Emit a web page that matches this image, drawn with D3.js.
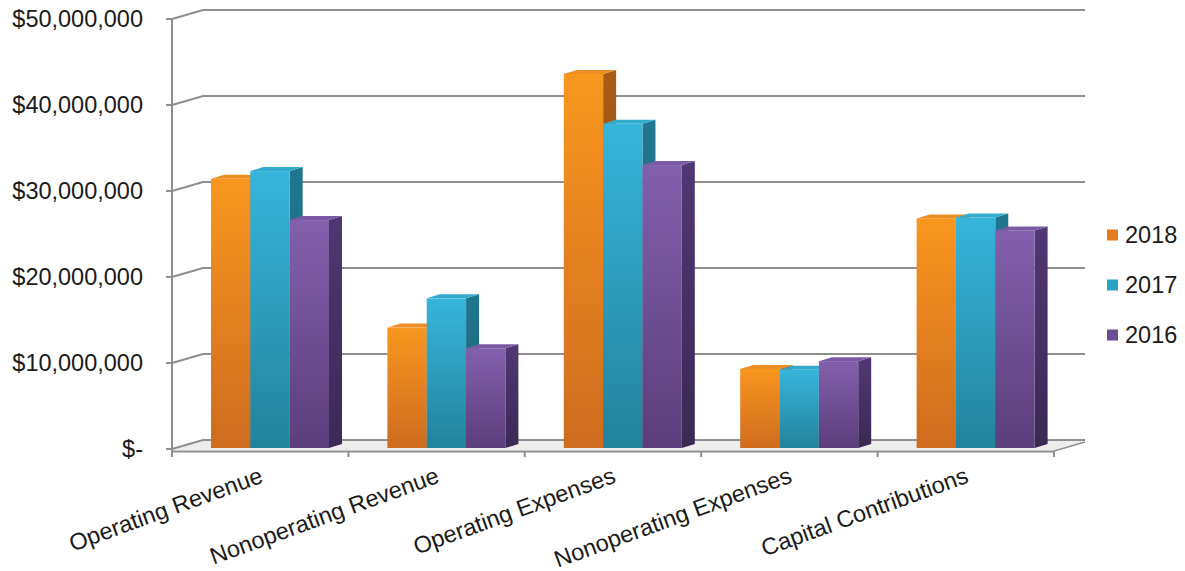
<!DOCTYPE html>
<html>
<head>
<meta charset="utf-8">
<script src="https://cdn.jsdelivr.net/npm/d3@7"></script>
<style>
  html, body { margin: 0; padding: 0; background: #ffffff; }
  svg { display: block; }
  text { font-family: "Liberation Sans", Arial, sans-serif; fill: #1a1a1a; }
</style>
</head>
<body>
<svg id="chart" width="1185" height="571"></svg>
<script>
const categories = ["Operating Revenue", "Nonoperating Revenue", "Operating Expenses", "Nonoperating Expenses", "Capital Contributions"];
const seriesNames = ["2018", "2017", "2016"];
const values2018 = [31.3e6, 14.0e6, 43.5e6, 9.2e6, 26.7e6];
const values2017 = [32.2e6, 17.4e6, 37.7e6, 9.1e6, 26.8e6];
const values2016 = [26.5e6, 11.6e6, 32.9e6, 10.1e6, 25.3e6];
const yTickValues = [0, 10e6, 20e6, 30e6, 40e6, 50e6];
const yTickLabels = ["$-", "$10,000,000", "$20,000,000", "$30,000,000", "$40,000,000", "$50,000,000"];

const seriesValues = [values2018, values2017, values2016];

const svg = d3.select("#chart");

// geometry
const depthX = 31, depthY = -9;
const barDX = 13, barDY = -4;
const yFront = d3.scaleLinear().domain([0, 50e6]).range([449, 19]);
const yBack = d3.scaleLinear().domain([0, 50e6]).range([440, 10]);
const yBar = d3.scaleLinear().domain([0, 50e6]).range([448, 18]);
const xBand = d3.scaleBand().domain(categories).range([172, 1054]);
const xInner = d3.scaleBand().domain(seriesNames).range([0, 118]);
const groupOffset = 39;

const gridColor = "#8e8e8e";

const colors = [
  {top: "#f8961f", bottom: "#cf6c1f", side1: "#a85c14", side2: "#8c4a10", cap: "#ed8e25", legend: "#e47d20"},
  {top: "#37b5db", bottom: "#22839c", side1: "#217790", side2: "#1a5e72", cap: "#33abcc", legend: "#2aa2c3"},
  {top: "#8260ac", bottom: "#5b3e7c", side1: "#4f3872", side2: "#3b2955", cap: "#7a5aa4", legend: "#6b4c95"}
];

const defs = svg.append("defs");
colors.forEach((c, i) => {
  const g = defs.append("linearGradient").attr("id", "front" + i)
    .attr("x1", 0).attr("y1", 0).attr("x2", 0).attr("y2", 1);
  g.append("stop").attr("offset", "0%").attr("stop-color", c.top);
  g.append("stop").attr("offset", "100%").attr("stop-color", c.bottom);
  const s = defs.append("linearGradient").attr("id", "side" + i)
    .attr("x1", 0).attr("y1", 0).attr("x2", 0).attr("y2", 1);
  s.append("stop").attr("offset", "0%").attr("stop-color", c.side1);
  s.append("stop").attr("offset", "100%").attr("stop-color", c.side2);
});

// floor
const x0 = xBand.range()[0], x1 = xBand.range()[1];
svg.append("path")
  .attr("d", `M${x0},${yFront(0) + 1}L${x0 + depthX},${yBack(0) + 1}L${x1 + depthX},${yBack(0) + 1}L${x1},${yFront(0) + 1}Z`)
  .attr("fill", "#ededed").attr("stroke", "none");

// gridlines (side wall diagonal + back wall horizontal)
yTickValues.forEach(v => {
  svg.append("path")
    .attr("d", `M${x0},${yFront(v)}L${x0 + depthX},${yBack(v)}L${x1 + depthX},${yBack(v)}`)
    .attr("fill", "none").attr("stroke", gridColor).attr("stroke-width", 2);
});
svg.append("path")
  .attr("d", `M${x1},${yFront(0) + 2}L${x1 + depthX},${yBack(0) + 2}`)
  .attr("fill", "none").attr("stroke", gridColor).attr("stroke-width", 1.5);

// bars
categories.forEach((cat, ci) => {
  seriesNames.forEach((s, si) => {
    const v = seriesValues[si][ci];
    const bx0 = xBand(cat) + groupOffset + xInner(s);
    const bx1 = bx0 + xInner.bandwidth();
    const yt = yBar(v), yb = yBar(0);
    const g = svg.append("g");
    g.append("path")
      .attr("d", `M${bx1},${yt}L${bx1 + barDX},${yt + barDY}L${bx1 + barDX},${yb + barDY}L${bx1},${yb}Z`)
      .attr("fill", `url(#side${si})`);
    g.append("path")
      .attr("d", `M${bx0},${yt}L${bx0 + barDX},${yt + barDY}L${bx1 + barDX},${yt + barDY}L${bx1},${yt}Z`)
      .attr("fill", colors[si].cap);
    g.append("rect")
      .attr("x", bx0).attr("y", yt)
      .attr("width", bx1 - bx0).attr("height", yb - yt)
      .attr("fill", `url(#front${si})`);
  });
});

// axes lines
svg.append("line").attr("x1", x0).attr("x2", x0).attr("y1", yFront(50e6)).attr("y2", yFront(0) + 8)
  .attr("stroke", gridColor).attr("stroke-width", 2);
svg.append("line").attr("x1", x0).attr("x2", x1).attr("y1", yFront(0) + 2.5).attr("y2", yFront(0) + 2.5)
  .attr("stroke", gridColor).attr("stroke-width", 2);

// y ticks + labels
yTickValues.forEach((v, i) => {
  svg.append("line").attr("x1", x0 - 6).attr("x2", x0).attr("y1", yFront(v)).attr("y2", yFront(v))
    .attr("stroke", gridColor).attr("stroke-width", 2);
  svg.append("text")
    .attr("x", 143).attr("y", yFront(v)).attr("dy", "0.36em")
    .attr("text-anchor", "end").attr("font-size", 23.5)
    .text(yTickLabels[i]);
});

// x ticks
d3.range(categories.length + 1).forEach(i => {
  const x = x0 + i * xBand.bandwidth();
  svg.append("line").attr("x1", x).attr("x2", x).attr("y1", yFront(0) + 2).attr("y2", yFront(0) + 8)
    .attr("stroke", gridColor).attr("stroke-width", 2);
});

// category labels
categories.forEach(cat => {
  const cx = xBand(cat) + xBand.bandwidth() / 2 + 4;
  const cy = 482;
  svg.append("text")
    .attr("transform", `translate(${cx},${cy}) rotate(-20)`)
    .attr("text-anchor", "end").attr("font-size", 23.5)
    .text(cat);
});

// legend
seriesNames.forEach((s, i) => {
  const ly = 235 + i * 50;
  svg.append("rect").attr("x", 1107).attr("y", ly - 5.5).attr("width", 11).attr("height", 11)
    .attr("fill", colors[i].legend);
  svg.append("text").attr("x", 1125).attr("y", ly).attr("dy", "0.36em")
    .attr("font-size", 23.5).text(s);
});
</script>
</body>
</html>
